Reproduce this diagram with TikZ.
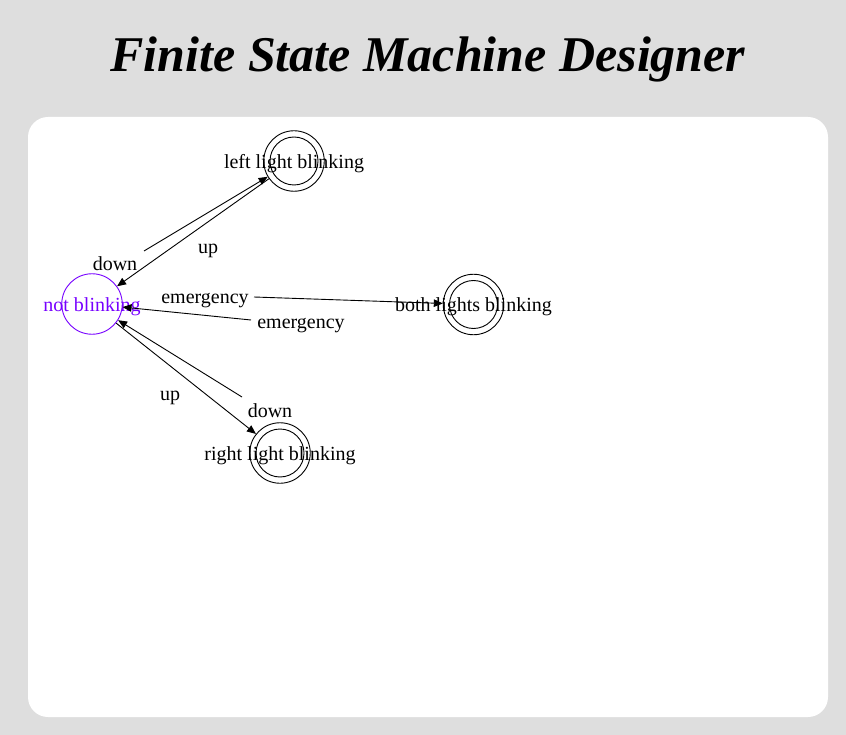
\documentclass[tikz,border=0pt]{standalone}
\usepackage{fontspec}
\setmainfont{Liberation Serif}
\usetikzlibrary{arrows.meta}
\definecolor{pagegray}{RGB}{222,222,222}
\definecolor{selpurple}{RGB}{119,0,255}

\begin{document}
\begin{tikzpicture}[x=1pt,y=-1pt,
    state/.style={draw, circle, line width=0.9pt, minimum size=60.5pt, inner sep=0pt},
    statename/.style={anchor=base, font=\fontsize{20}{24}\selectfont, inner sep=0pt},
    edge/.style={line width=0.9pt, -{Triangle[length=9pt,width=7.5pt]}},
    lbl/.style={anchor=base, font=\fontsize{20}{24}\selectfont, inner sep=0pt}]
    % page and canvas
    \fill[pagegray] (0,0) rectangle (846,735);
    \fill[white, rounded corners=20pt] (28,117) rectangle (828,717);
    \useasboundingbox (0,0) rectangle (846,735);
    \node[anchor=base, inner sep=0pt, font=\fontsize{50}{60}\selectfont\bfseries\itshape] (title) at (428,72) {Finite State Machine Designer};

    % states
    \node[state, draw=selpurple] (nb) at (92,304) {};
    \node[state] (left) at (294,161) {};
    \node[state] (both) at (473.5,304.5) {};
    \node[state] (right) at (280,453) {};
    \foreach \s in {left,both,right}
        \draw[line width=0.9pt] (\s.center) circle (24pt);
    \node[statename, text=selpurple] (nbtext) at ([yshift=-7.5pt]nb.center) {not blinking};
    \node[statename] (lefttext) at ([yshift=-7.5pt]left.center) {left light blinking};
    \node[statename] (bothtext) at ([yshift=-7.5pt]both.center) {both lights blinking};
    \node[statename] (righttext) at ([yshift=-7.5pt]right.center) {right light blinking};

    % loose ends of the links
    \coordinate (upfrom) at (144,251);
    \coordinate (emfrom) at (254,297);
    \coordinate (emback) at (251,320);
    \coordinate (dnback) at (242,397);

    % links
    \draw[edge] (upfrom) -- (left);
    \draw[edge] (left) -- (nb);
    \draw[edge] (emfrom) -- (both);
    \draw[edge] (emback) -- (nb);
    \draw[edge] (dnback) -- (nb);
    \draw[edge] (nb) -- (right);

    % link labels
    \node[lbl] (up1) at (208,254) {up};
    \node[lbl] (down1) at (115,271) {down};
    \node[lbl] (em1) at (205,304) {emergency};
    \node[lbl] (em2) at (301,328) {emergency};
    \node[lbl] (down2) at (270,417) {down};
    \node[lbl] (up2) at (170,400) {up};
\end{tikzpicture}
\end{document}
